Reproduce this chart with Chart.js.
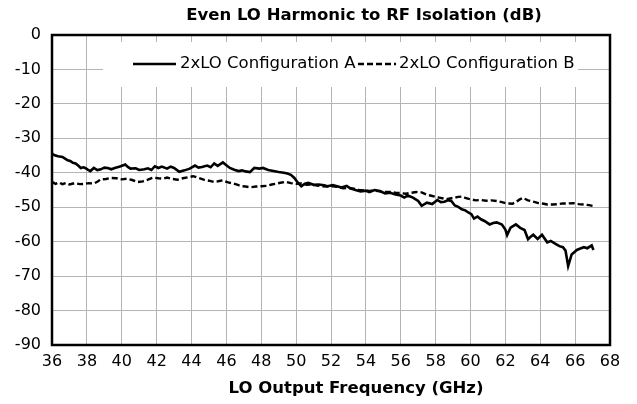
<!DOCTYPE html>
<html>
<head>
<meta charset="utf-8">
<script src="https://cdn.jsdelivr.net/npm/chart.js@4.4.1/dist/chart.umd.min.js"></script>
<style>
  html, body { margin: 0; padding: 0; background: #fff; }
  #wrap { width: 637px; height: 404px; position: relative; }
</style>
</head>
<body>
<div id="wrap"><canvas id="c" width="637" height="404"></canvas></div>
<script>
const chartTitle = "Even LO Harmonic to RF Isolation (dB)";
const xAxisTitle = "LO Output Frequency (GHz)";
const seriesNames = ["2xLO Configuration A", "2xLO Configuration B"];
const xTicks = [36, 38, 40, 42, 44, 46, 48, 50, 52, 54, 56, 58, 60, 62, 64, 66, 68];
const yTicks = [0, -10, -20, -30, -40, -50, -60, -70, -80, -90];

const freqA = [36.0,36.15,36.35,36.6,36.75,36.9,37.05,37.2,37.35,37.5,37.65,37.8,37.9,38.05,38.2,38.4,38.6,38.8,39.0,39.2,39.4,39.6,39.9,40.2,40.35,40.5,40.8,41.0,41.3,41.5,41.7,41.9,42.1,42.3,42.6,42.8,43.0,43.3,43.6,43.9,44.2,44.4,44.6,44.9,45.1,45.3,45.5,45.8,46.0,46.2,46.45,46.7,46.9,47.1,47.35,47.6,47.9,48.1,48.4,48.7,49.0,49.3,49.5,49.7,49.9,50.1,50.3,50.5,50.7,51.0,51.3,51.6,51.8,52.1,52.4,52.6,52.9,53.1,53.4,53.7,54.0,54.2,54.5,54.8,55.1,55.4,55.7,56.0,56.2,56.4,56.7,57.0,57.2,57.5,57.8,58.1,58.3,58.5,58.7,58.9,59.1,59.3,59.5,59.7,59.9,60.05,60.2,60.4,60.6,60.8,61.1,61.3,61.5,61.8,62.0,62.1,62.3,62.6,62.85,63.1,63.3,63.45,63.6,63.85,64.1,64.4,64.6,64.9,65.1,65.3,65.45,65.6,65.8,66.1,66.3,66.5,66.7,66.95,67.05];
const isoA = [-34.4,-34.9,-35.2,-35.4,-35.9,-36.4,-36.6,-37.1,-37.3,-37.9,-38.6,-38.4,-38.6,-39.1,-39.5,-38.6,-39.2,-39.0,-38.5,-38.6,-39.0,-38.6,-38.2,-37.6,-38.3,-38.8,-38.7,-39.2,-39.0,-38.7,-39.2,-38.1,-38.6,-38.2,-38.8,-38.2,-38.6,-39.7,-39.3,-38.8,-37.9,-38.5,-38.3,-37.9,-38.4,-37.3,-38.0,-37.0,-37.8,-38.6,-39.1,-39.5,-39.3,-39.6,-39.8,-38.6,-38.8,-38.6,-39.2,-39.5,-39.8,-40.0,-40.2,-40.6,-41.5,-42.9,-43.9,-43.2,-42.9,-43.5,-43.4,-43.6,-43.9,-43.6,-44.0,-44.3,-43.8,-44.5,-45.0,-45.4,-45.2,-45.6,-45.0,-45.3,-46.0,-45.8,-46.3,-46.6,-47.2,-46.6,-47.2,-48.2,-49.6,-48.7,-49.1,-47.9,-48.5,-48.4,-48.0,-48.2,-49.5,-49.9,-50.6,-50.9,-51.6,-52.0,-53.3,-52.7,-53.5,-54.0,-55.0,-54.6,-54.4,-55.0,-56.5,-58.1,-55.9,-55.0,-56.0,-56.6,-59.3,-58.6,-58.0,-59.2,-58.0,-60.2,-59.8,-60.7,-61.3,-61.6,-62.6,-67.1,-63.7,-62.4,-62.0,-61.6,-61.9,-61.1,-62.4];

const freqB = [36.0,36.2,36.4,36.6,36.8,37.0,37.3,37.6,37.9,38.1,38.4,38.6,38.8,39.1,39.4,39.7,40.0,40.3,40.6,40.9,41.2,41.5,41.8,42.1,42.4,42.6,42.9,43.2,43.5,43.8,44.1,44.4,44.7,45.0,45.3,45.6,45.8,46.1,46.4,46.7,46.9,47.1,47.4,47.7,48.0,48.3,48.6,48.9,49.1,49.4,49.7,50.0,50.3,50.6,50.9,51.2,51.5,51.8,52.1,52.4,52.7,53.0,53.3,53.6,53.9,54.2,54.5,54.8,55.1,55.4,55.7,56.0,56.3,56.6,56.9,57.2,57.5,57.7,58.0,58.2,58.5,58.7,59.0,59.3,59.5,59.7,59.9,60.1,60.3,60.6,60.9,61.2,61.5,61.8,62.0,62.2,62.4,62.6,62.8,63.0,63.3,63.6,63.9,64.2,64.4,64.7,65.0,65.3,65.6,65.9,66.2,66.5,66.8,67.0];
const isoB = [-42.6,-43.2,-42.8,-43.3,-43.0,-43.4,-43.0,-43.3,-43.2,-43.0,-43.1,-42.6,-41.9,-41.8,-41.5,-41.6,-41.9,-41.7,-42.1,-42.7,-42.5,-42.0,-41.4,-41.6,-41.7,-41.4,-41.8,-42.0,-41.6,-41.3,-41.0,-41.5,-42.0,-42.3,-42.7,-42.4,-42.2,-42.8,-43.1,-43.6,-43.9,-44.0,-44.2,-44.0,-43.9,-43.8,-43.4,-43.1,-42.9,-42.6,-43.0,-43.2,-43.1,-43.5,-43.4,-43.7,-43.9,-44.0,-43.9,-44.1,-44.5,-44.4,-44.6,-45.0,-45.1,-45.3,-45.2,-45.4,-45.6,-45.6,-45.8,-45.9,-46.1,-45.8,-45.6,-45.7,-46.4,-46.6,-47.0,-47.2,-47.5,-47.6,-47.3,-47.0,-46.9,-47.3,-47.6,-47.8,-48.0,-47.9,-48.1,-48.0,-48.2,-48.5,-48.8,-48.9,-49.0,-48.5,-47.8,-47.3,-48.0,-48.4,-48.8,-49.0,-49.2,-49.2,-49.1,-48.9,-48.9,-48.8,-49.1,-49.2,-49.4,-49.6];

const FONT = "'DejaVu Sans', sans-serif";
const DASH = [6, 3];

function pts(xs, ys) { return xs.map((x, i) => ({ x: x, y: ys[i] })); }

const decorPlugin = {
  id: 'decor',
  beforeDatasetsDraw(chart) {
    const ctx = chart.ctx;
    ctx.save();
    ctx.fillStyle = '#ffffff';
    ctx.fillRect(103, 42, 475, 45);
    ctx.restore();
  },
  afterDraw(chart) {
    const ctx = chart.ctx;
    const a = chart.chartArea;
    ctx.save();
    ctx.strokeStyle = '#000';
    ctx.lineWidth = 2.5;
    ctx.strokeRect(a.left, a.top, a.right - a.left, a.bottom - a.top);
    const ly = 64;
    ctx.lineWidth = 2.5;
    ctx.setLineDash([]);
    ctx.beginPath(); ctx.moveTo(133, ly); ctx.lineTo(176, ly); ctx.stroke();
    ctx.setLineDash(DASH);
    ctx.beginPath(); ctx.moveTo(358, ly); ctx.lineTo(396, ly); ctx.stroke();
    ctx.setLineDash([]);
    ctx.fillStyle = '#000';
    ctx.font = '16.5px ' + FONT;
    ctx.textBaseline = 'middle';
    ctx.textAlign = 'left';
    ctx.fillText(seriesNames[0], 180, ly);
    ctx.fillText(seriesNames[1], 399, ly);
    ctx.font = 'bold 16.5px ' + FONT;
    ctx.textAlign = 'center';
    ctx.fillText(chartTitle, 364, 16);
    ctx.fillText(xAxisTitle, 356, 389);
    ctx.restore();
  }
};

new Chart(document.getElementById('c'), {
  type: 'scatter',
  data: {
    datasets: [
      { label: seriesNames[0], data: pts(freqA, isoA), showLine: true, borderColor: '#000', backgroundColor: '#000', borderWidth: 2.6, pointRadius: 0, tension: 0 },
      { label: seriesNames[1], data: pts(freqB, isoB), showLine: true, borderColor: '#000', backgroundColor: '#000', borderWidth: 2.4, borderDash: DASH, pointRadius: 0, tension: 0 }
    ]
  },
  options: {
    responsive: false,
    animation: false,
    layout: { padding: { left: 0, top: 35, right: 27, bottom: 0 } },
    plugins: { legend: { display: false }, title: { display: false }, tooltip: { enabled: false } },
    scales: {
      x: {
        type: 'linear', min: 36, max: 68,
        afterFit(s) { s.height = 59; },
        afterBuildTicks(s) { s.ticks = xTicks.map(v => ({ value: v })); },
        ticks: { color: '#000', font: { family: FONT, size: 16 }, padding: 7, maxRotation: 0, autoSkip: false },
        grid: { color: '#b4b4b4', lineWidth: 1, drawTicks: false },
        border: { display: false }
      },
      y: {
        type: 'linear', min: -90, max: 0,
        afterFit(s) { s.width = 52; },
        afterBuildTicks(s) { s.ticks = yTicks.map(v => ({ value: v })); },
        ticks: { color: '#000', font: { family: FONT, size: 16 }, padding: 11, autoSkip: false },
        grid: { color: '#b4b4b4', lineWidth: 1, drawTicks: false },
        border: { display: false }
      }
    }
  },
  plugins: [decorPlugin]
});
</script>
</body>
</html>
